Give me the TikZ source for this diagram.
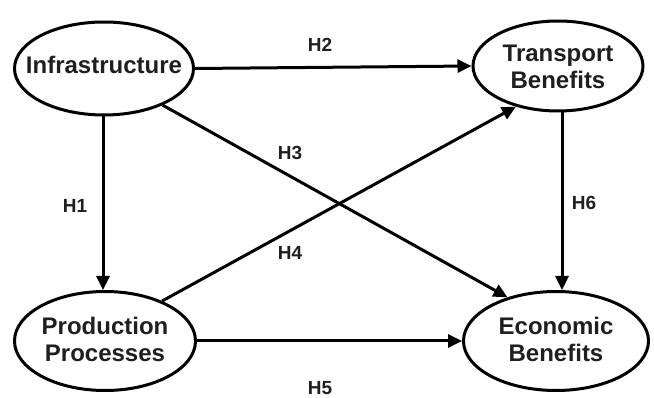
\documentclass[tikz,border=0pt]{standalone}
\usepackage{fontspec}
\setmainfont{Liberation Sans}
\usetikzlibrary{arrows.meta,shapes.geometric}
\newcommand\cbox[2][0pt]{\makebox[0pt]{\raisebox{-#1}[\height][\depth]{\begin{tabular}{@{}c@{}}#2\end{tabular}}}}
\begin{document}
\begin{tikzpicture}[x=1pt,y=-1pt,
  construct/.style={ellipse,draw,line width=3pt,inner sep=0pt,
    font=\fontsize{24}{26.7}\selectfont\bfseries,text=black!88},
  hlabel/.style={font=\fontsize{19}{22}\selectfont\bfseries,text=black!88,inner sep=0pt},
  link/.style={line width=3pt,-{Triangle[length=14pt,width=13pt]}}]
\useasboundingbox (0,0) rectangle (654,398);
\node[construct,minimum width=179pt,minimum height=93pt] (inf) at (104,68.5) {\cbox{Infrastructure}};
\node[construct,minimum width=170pt,minimum height=90pt] (tra) at (558,66) {\cbox[4pt]{Transport\\Benefits}};
\node[construct,minimum width=181pt,minimum height=99pt] (pro) at (105,341) {\cbox[2pt]{Production\\Processes}};
\node[construct,minimum width=185pt,minimum height=99pt] (eco) at (556,341) {\cbox[2pt]{Economic\\Benefits}};
\coordinate (h1s) at (103,116);
\coordinate (h1e) at (103,290);
\coordinate (h6s) at (562,112);
\coordinate (h6e) at (562,290);
\draw[link] (inf.east) -- (tra.west);
\draw[link] (inf.south -| h1s) -- (pro.north -| h1e);
\draw[link] (tra.south -| h6s) -- (eco.north -| h6e);
\draw[link] (pro.east) -- (eco.west);
\draw[link] (inf.-32) -- (eco.138);
\draw[link] (pro.35) -- (tra.-136);
\node[hlabel] (l2) at (320,45) {H2};
\node[hlabel] (l1) at (75,206) {H1};
\node[hlabel] (l3) at (290,153) {H3};
\node[hlabel] (l4) at (290,253) {H4};
\node[hlabel] (l5) at (320,388) {H5};
\node[hlabel] (l6) at (584,203) {H6};
\end{tikzpicture}
\end{document}
